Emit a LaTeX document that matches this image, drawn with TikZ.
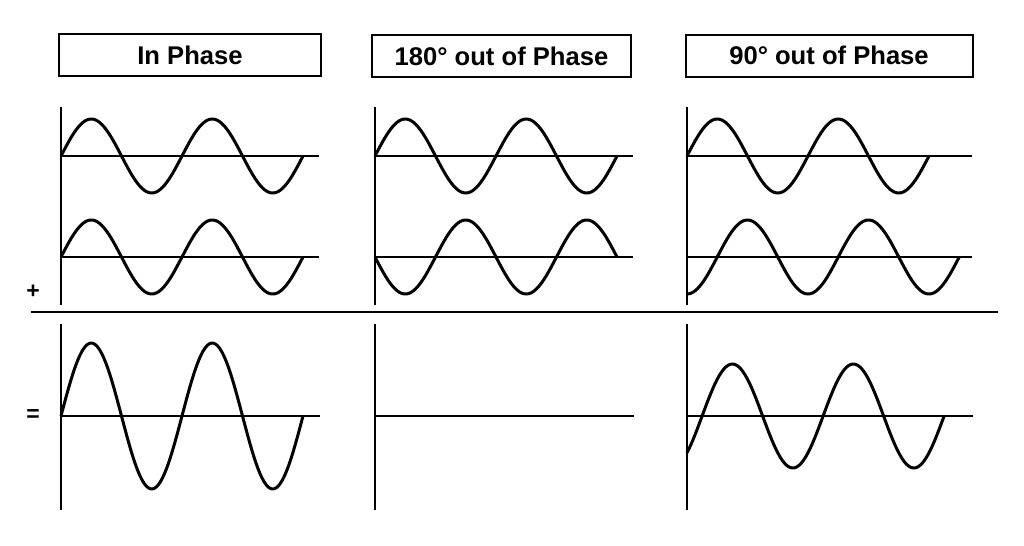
\documentclass[tikz,border=0pt]{standalone}
\usepackage{fontspec}
\setmainfont{Liberation Sans}
\usetikzlibrary{positioning}

\begin{document}
\begin{tikzpicture}[x=0.5pt, y=-0.5pt,
  titlebox/.style={draw, line width=1pt, minimum height=21pt, inner sep=0pt, font=\bfseries\fontsize{12.8}{14}\selectfont},
  axisline/.style={line width=1.3pt},
  wave/.style={line width=1.5pt, line join=round},
  sign/.style={font=\bfseries\fontsize{11.5}{13}\selectfont}]
\useasboundingbox (0,0) rectangle (1024,546);
% titles
\node[titlebox, minimum width=131pt] (inphase) at (190,55) {In Phase};
\node[titlebox, minimum width=129.5pt] (outphase) at (501.5,56) {180° out of Phase};
\node[titlebox, minimum width=143.5pt] (quadphase) at (829,55.5) {90° out of Phase};
\node[sign] (plus) at (33,292) {+};
\node[sign] (equals) at (33,416) {=};
% separator
\draw[line width=1pt] (31,312) -- (998,312);
% in phase
\draw[axisline] (61,107) -- (61,305);
\draw[axisline] (61,156) -- (319,156);
\draw[axisline] (61,257) -- (319,257);
\draw[wave] plot[domain=0:242, samples=120, smooth] ({61+\x},{156-37*sin(2.9752*\x)});
\draw[wave] plot[domain=0:242, samples=120, smooth] ({61+\x},{257-37*sin(2.9752*\x)});
\draw[axisline] (61,324) -- (61,510);
\draw[axisline] (61,416) -- (320,416);
\draw[wave] plot[domain=0:242, samples=120, smooth] ({61+\x},{416-73*sin(2.9752*\x)});
% 180 out of phase
\draw[axisline] (375,107) -- (375,305);
\draw[axisline] (375,156) -- (633,156);
\draw[axisline] (375,257) -- (633,257);
\draw[wave] plot[domain=0:242, samples=120, smooth] ({375+\x},{156-37*sin(2.9752*\x)});
\draw[wave] plot[domain=0:242, samples=120, smooth] ({375+\x},{257+37*sin(2.9752*\x)});
\draw[axisline] (375,324) -- (375,510);
\draw[axisline] (375,416) -- (634,416);
% 90 out of phase
\draw[axisline] (687,107) -- (687,305);
\draw[axisline] (687,156) -- (972,156);
\draw[axisline] (687,257) -- (972,257);
\draw[wave] plot[domain=0:242, samples=120, smooth] ({687+\x},{156-37*sin(2.9752*\x)});
\draw[wave] plot[domain=0:272, samples=130, smooth] ({687+\x},{257+37*cos(2.9752*\x)});
\draw[axisline] (687,324) -- (687,510);
\draw[axisline] (687,416) -- (973,416);
\draw[wave] plot[domain=0:257, samples=130, smooth] ({687+\x},{416-52*sin(2.9752*\x-45)});
\end{tikzpicture}
\end{document}
